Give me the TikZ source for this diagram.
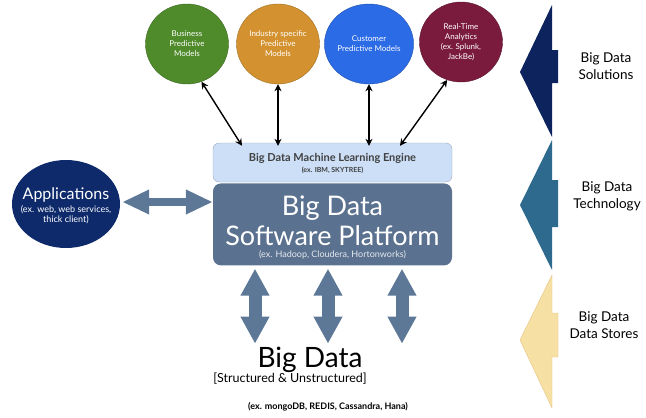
\documentclass[tikz,border=0pt]{standalone}
\usepackage{fontspec}
\setmainfont{Lato}
\usetikzlibrary{shapes.geometric,arrows.meta,positioning}

\definecolor{bdgreen}{HTML}{4F8A2B}
\definecolor{bdorange}{HTML}{D3922F}
\definecolor{bdblue}{HTML}{2C6BE6}
\definecolor{bdmaroon}{HTML}{7A1A3C}
\definecolor{bdnavy}{HTML}{0E2A6B}
\definecolor{bdslate}{HTML}{5A718F}
\definecolor{bdengine}{HTML}{CCDFF7}
\definecolor{bdarrow}{HTML}{5D7897}
\definecolor{bdsol}{HTML}{0D235E}
\definecolor{bdteal}{HTML}{2D6A8D}
\definecolor{bdsand}{HTML}{F7E0A3}

\tikzset{
	model/.style={ellipse, draw=#1!75!black, fill=#1, text=white, inner sep=0pt,
		minimum width=83pt, minimum height=80pt, align=center,
		font=\fontsize{8}{10}\selectfont},
	link/.style={line width=1.4pt, {Stealth[length=7pt,width=7pt]}-{Stealth[length=7pt,width=7pt]}},
	fatarrow/.style n args={2}{draw=bdarrow, line width=#1,
		{Triangle[length=27pt,width=#2]}-{Triangle[length=27pt,width=#2]}},
	sidelabel/.style={align=center, font=\fontsize{13.5}{17}\selectfont}
}

\begin{document}
\begin{tikzpicture}[x=1pt,y=-1pt]
	\useasboundingbox (0,0) rectangle (646,418);
	
	% models on top
	\node[model=bdgreen]  (business) at (187,44) {Business\\Predictive\\Models};
	\node[model=bdorange] (industry) at (278,44) {Industry specific\\Predictive\\Models};
	\node[model=bdblue]   (customer) at (369,44) {Customer\\Predictive Models};
	\node[model=bdmaroon] (realtime) at (461,42) {Real-Time\\Analytics\\(ex. Splunk,\\JackBe)};
	
	% engine and platform
	\node[draw=bdslate!60, fill=bdengine, rounded corners=6pt, minimum width=239pt,
		minimum height=39pt] (engine) at (332.5,162.5) {};
	\node[text=black!75, font=\fontsize{11}{13}\bfseries] (enginetitle) at (332.5,158) {Big Data Machine Learning Engine};
	\node[text=black!75, font=\fontsize{7}{8}\bfseries] (engineex) at (332.5,170) {(ex. IBM, SKYTREE)};
	
	\node[fill=bdslate, rounded corners=8pt, minimum width=239pt, minimum height=82pt,
		below=1pt of engine] (platform) {};
	\node[text=white, align=center, font=\fontsize{27}{30}\selectfont] (platformtitle) at (332.5,221) {Big Data\\Software Platform};
	\node[text=white!85!bdslate, font=\fontsize{9}{10}\selectfont] (platformex) at (332.5,255) {(ex. Hadoop, Cloudera, Hortonworks)};
	
	% applications
	\node[ellipse, fill=bdnavy, minimum width=108pt, minimum height=88pt, inner sep=0pt] (apps) at (66,204) {};
	\node[text=white, font=\fontsize{16}{18}\selectfont] (appstitle) at (66,195) {Applications};
	\node[text=white, align=center, font=\fontsize{9}{10}\selectfont] (appsex) at (66,215) {(ex. web, web services,\\thick client)};
	
	% big data at the bottom
	\node[font=\fontsize{28}{30}\selectfont] (bigdata) at (310,360) {Big Data};
	\node[font=\fontsize{12.5}{14}\selectfont] (bigdatakind) at (290,379) {[Structured \& Unstructured]};
	\node[font=\fontsize{9}{10}\bfseries] (bigdataex) at (328,407) {(ex. mongoDB, REDIS, Cassandra, Hana)};
	
	% links between models and engine
	\coordinate (e1) at (242,0);
	\coordinate (e4) at (400,0);
	\draw[link] (business.291) -- ([yshift=-3pt]engine.north -| e1);
	\draw[link] (industry.south) -- ([yshift=-3pt]engine.north -| industry);
	\draw[link] (customer.south) -- ([yshift=-3pt]engine.north -| customer);
	\draw[link] (realtime.250) -- ([yshift=-3pt]engine.north -| e4);
	
	% block arrows
	\coordinate (a1) at (0,202);
	\draw[fatarrow={8pt}{23pt}] ([xshift=2pt]apps.east |- a1) -- (platform.west |- a1);
	\coordinate (s1) at (255,0);
	\coordinate (s2) at (328,0);
	\coordinate (s3) at (402,0);
	\draw[fatarrow={13pt}{27pt}] ([yshift=-3pt]platform.south -| s1) -- (bigdata.north -| s1);
	\draw[fatarrow={13pt}{27pt}] ([yshift=-3pt]platform.south -| s2) -- (bigdata.north -| s2);
	\draw[fatarrow={13pt}{27pt}] ([yshift=-3pt]platform.south -| s3) -- (bigdata.north -| s3);
	
	% layer chevrons on the right
	\fill[bdsol] (552,5) -- (552,50) -- (558,50) -- (558,83) -- (552,83) -- (552,137) -- (520,72) -- cycle;
	\fill[bdteal] (552,140) -- (552,180) -- (558,180) -- (558,227) -- (552,227) -- (552,270) -- (520,205) -- cycle;
	\filldraw[fill=bdsand, draw=bdsand!70!brown, line width=0.4pt] (552,275) -- (552,313) -- (558,313) -- (558,357) -- (552,357) -- (552,408) -- (520,340) -- cycle;
	
	\node[sidelabel] (solutions)  at (606,66)  {Big Data\\Solutions};
	\node[sidelabel] (technology) at (607,196) {Big Data\\Technology};
	\node[sidelabel] (stores)     at (604,325) {Big Data\\Data Stores};
\end{tikzpicture}
\end{document}
